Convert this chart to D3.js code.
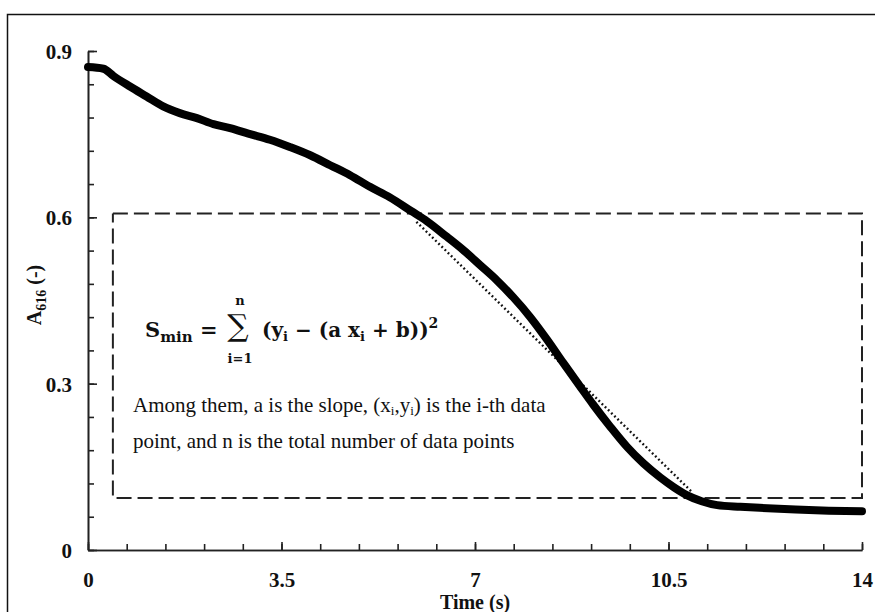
<!DOCTYPE html>
<html><head><meta charset="utf-8">
<script src="https://cdn.jsdelivr.net/npm/d3@7"></script>
<style>body{margin:0;background:#fff}svg{display:block}</style>
</head><body>
<script>
const times = [0,0.28,0.46,0.76,1.06,1.36,1.66,1.97,2.27,2.57,2.9,3.29,3.65,4.02,4.38,4.74,5.10,5.46,5.85,6.13,6.49,6.8,7.09,7.4,7.69,8.0,8.3,8.6,8.9,9.14,9.45,9.75,10.05,10.35,10.6,10.83,11.1,11.38,11.8,12.15,12.8,13.4,14.0];
const absorb = [0.871,0.868,0.855,0.836,0.818,0.800,0.788,0.779,0.768,0.761,0.751,0.740,0.727,0.712,0.694,0.676,0.655,0.636,0.611,0.593,0.565,0.540,0.514,0.486,0.456,0.420,0.380,0.337,0.295,0.262,0.222,0.186,0.156,0.131,0.113,0.099,0.088,0.081,0.078,0.076,0.073,0.071,0.070];
const fitX = [5.94, 10.92];
const fitY = [0.592, 0.105];
const boxX = [0.45, 14.0];
const boxY = [0.094, 0.607];
const xTicks = [0, 3.5, 7, 10.5, 14];
const xTickLabels = ["0","3.5","7","10.5","14"];
const yTicks = [0, 0.3, 0.6, 0.9];
const yTickLabels = ["0","0.3","0.6","0.9"];

const W = 875, H = 612;
const svg = d3.select("body").append("svg").attr("width", W).attr("height", H);
const x = d3.scaleLinear().domain([0, 14]).range([88, 862]);
const y = d3.scaleLinear().domain([0, 0.9]).range([550, 51]);

// outer frame
svg.append("rect").attr("x", 7.5).attr("y", 14.5).attr("width", 900).attr("height", 700)
  .attr("fill", "none").attr("stroke", "#111").attr("stroke-width", 1.5);

const serif = "'Liberation Serif','Times New Roman',serif";

// axes
const xMinor = d3.range(0, 14.0001, 0.7);
const yMinor = d3.range(0, 0.9001, 0.06);
const gx = svg.append("g").attr("transform", `translate(0,${y(0)})`)
  .call(d3.axisBottom(x).tickValues(xMinor).tickSize(-6).tickFormat("").tickSizeOuter(0));
const gx2 = svg.append("g").attr("transform", `translate(0,${y(0)})`)
  .call(d3.axisBottom(x).tickValues(xTicks).tickSize(-8).tickFormat((d,i)=>xTickLabels[i]).tickSizeOuter(0));
const gy = svg.append("g").attr("transform", `translate(${x(0)},0)`)
  .call(d3.axisLeft(y).tickValues(yMinor).tickSize(-6).tickFormat("").tickSizeOuter(0));
const gy2 = svg.append("g").attr("transform", `translate(${x(0)},0)`)
  .call(d3.axisLeft(y).tickValues(yTicks).tickSize(-9).tickFormat((d,i)=>yTickLabels[i]).tickPadding(16).tickSizeOuter(0));
[gx, gx2, gy, gy2].forEach(g => {
  g.selectAll("path,line").attr("stroke", "#222").attr("stroke-width", 1.6);
  g.selectAll("text").attr("font-family", serif).attr("font-weight", "bold").attr("font-size", 21).attr("fill", "#111");
});
gy2.selectAll("text").attr("dy", "0.35em");
gx2.selectAll(".tick text").attr("dy", "0").attr("y", 37);

// axis titles
svg.append("text").attr("x", x(7)).attr("y", 609).attr("text-anchor", "middle")
  .attr("font-family", serif).attr("font-weight", "bold").attr("font-size", 20).attr("fill", "#111").text("Time (s)");
const yl = svg.append("text").attr("transform", "translate(41,295) rotate(-90)").attr("text-anchor", "middle")
  .attr("font-family", serif).attr("font-weight", "bold").attr("font-size", 20).attr("fill", "#111");
yl.append("tspan").text("A");
yl.append("tspan").attr("font-size", 14).attr("dy", 5).text("616");
yl.append("tspan").attr("dy", -5).text(" (-)");

// dashed box
const boxPts = [[boxX[0],boxY[1]],[boxX[1],boxY[1]],[boxX[1],boxY[0]],[boxX[0],boxY[0]],[boxX[0],boxY[1]]];
svg.append("path").attr("d", d3.line().x(d=>x(d[0])).y(d=>y(d[1]))(boxPts))
  .attr("fill", "none").attr("stroke", "#222").attr("stroke-width", 2).attr("stroke-dasharray", "15,6");

// fitted dotted line
svg.append("path").attr("d", d3.line()([[x(fitX[0]), y(fitY[0])],[x(fitX[1]), y(fitY[1])]]))
  .attr("fill", "none").attr("stroke", "#111").attr("stroke-width", 2.4).attr("stroke-dasharray", "1.8,2.6");

// data curve
const pts = times.map((t,i)=>[t, absorb[i]]);
svg.append("path").attr("d", d3.line().x(d=>x(d[0])).y(d=>y(d[1])).curve(d3.curveMonotoneX)(pts))
  .attr("fill", "none").attr("stroke", "#000").attr("stroke-width", 8)
  .attr("stroke-linecap", "round").attr("stroke-linejoin", "round");

// formula
const mf = "'DejaVu Serif',serif";
const f = svg.append("text").attr("x", 145).attr("y", 337).attr("font-family", mf).attr("font-weight", "bold").attr("font-size", 21).attr("fill", "#111");
f.append("tspan").text("S");
f.append("tspan").attr("font-size", 15).attr("dy", 5).text("min");
f.append("tspan").attr("dy", -5).text(" =");
svg.append("text").attr("x", 238).attr("y", 336).attr("text-anchor", "middle").attr("font-family", mf).attr("font-size", 30).attr("fill", "#111").text("∑");
svg.append("text").attr("x", 240).attr("y", 305).attr("text-anchor", "middle").attr("font-family", mf).attr("font-weight", "bold").attr("font-size", 13).attr("fill", "#111").text("n");
svg.append("text").attr("x", 240).attr("y", 363).attr("text-anchor", "middle").attr("font-family", mf).attr("font-weight", "bold").attr("font-size", 13).attr("fill", "#111").text("i=1");
const f2 = svg.append("text").attr("x", 262).attr("y", 337).attr("font-family", mf).attr("font-weight", "bold").attr("font-size", 20).attr("fill", "#111");
f2.append("tspan").text("(y");
f2.append("tspan").attr("font-size", 13).attr("dy", 4).text("i");
f2.append("tspan").attr("dy", -4).text(" − (a x");
f2.append("tspan").attr("font-size", 13).attr("dy", 4).text("i");
f2.append("tspan").attr("dy", -4).text(" + b))");
f2.append("tspan").attr("font-size", 14).attr("dy", -9).text("2");

// description text
const t1 = svg.append("text").attr("x", 133).attr("y", 412).attr("font-family", serif).attr("font-size", 21).attr("fill", "#111");
t1.append("tspan").text("Among them, a is the slope, (x");
t1.append("tspan").attr("font-size", 13).attr("dy", 3).text("i");
t1.append("tspan").attr("dy", -3).text(",y");
t1.append("tspan").attr("font-size", 13).attr("dy", 3).text("i");
t1.append("tspan").attr("dy", -3).text(") is the i-th data");
svg.append("text").attr("x", 133).attr("y", 448).attr("font-family", serif).attr("font-size", 21).attr("fill", "#111")
  .text("point, and n is the total number of data points");
</script>
</body></html>
